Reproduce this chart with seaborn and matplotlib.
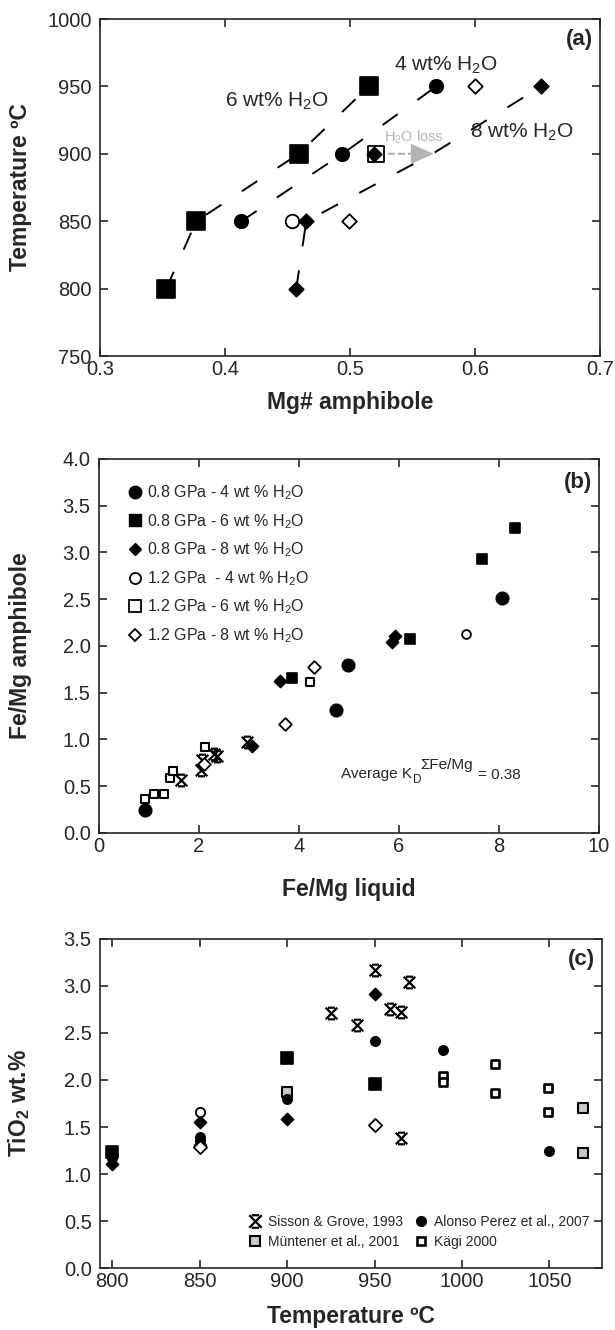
import matplotlib
matplotlib.use('Agg')
import matplotlib.pyplot as plt
from matplotlib.lines import Line2D
from matplotlib.path import Path
from matplotlib.ticker import FormatStrFormatter
import seaborn as sns

# ---- panel (a): Mg# amphibole vs temperature (0.8 / 1.2 GPa runs)
mg_08_6wt = [0.353, 0.377, 0.459, 0.515]
t_08_6wt = [800, 850, 900, 950]
mg_08_4wt = [0.413, 0.494, 0.569]
t_08_4wt = [850, 900, 950]
mg_08_8wt = [0.457, 0.465, 0.519, 0.653]
t_08_8wt = [800, 850, 900, 950]
mg_12_4wt = [0.454]
t_12_4wt = [850]
mg_12_6wt = [0.521]
t_12_6wt = [900]
mg_12_8wt = [0.4995, 0.600]
t_12_8wt = [850, 950]
# 8 wt% trend uses the 900 C run corrected for H2O loss
mg_8wt_trend = [0.457, 0.465, 0.566, 0.653]
t_8wt_trend = [800, 850, 900, 950]
h2o_loss_from = (0.531, 900)
h2o_loss_head = (0.551, 900)
h2o_loss_to = (0.567, 900)

# ---- panel (b): Fe/Mg liquid vs Fe/Mg amphibole
fl_08_4wt = [0.91, 4.73, 4.98, 8.06]
fa_08_4wt = [0.25, 1.32, 1.80, 2.51]
fl_08_6wt = [3.85, 6.22, 7.65, 8.31]
fa_08_6wt = [1.66, 2.08, 2.93, 3.26]
fl_08_8wt = [3.05, 3.61, 5.86, 5.91]
fa_08_8wt = [0.93, 1.63, 2.04, 2.11]
fl_12_4wt = [7.34]
fa_12_4wt = [2.13]
fl_12_6wt = [0.91, 1.09, 1.29, 1.41, 1.47, 2.12, 4.22]
fa_12_6wt = [0.36, 0.42, 0.42, 0.59, 0.66, 0.92, 1.62]
fl_12_8wt = [2.10, 3.71, 4.29]
fa_12_8wt = [0.74, 1.17, 1.77]
fl_sisson = [1.63, 2.03, 2.05, 2.30, 2.36, 2.95]
fa_sisson = [0.57, 0.67, 0.78, 0.85, 0.82, 0.97]
kd_text_pos = (4.84, 0.59)

# ---- panel (c): temperature vs TiO2 in amphibole
tc_sisson = [925, 940, 950, 959, 965, 970, 965]
ti_sisson = [2.71, 2.58, 3.17, 2.75, 2.72, 3.04, 1.38]
tc_circle = [800, 850, 850, 900, 950, 989, 1050]
ti_circle = [1.17, 1.39, 1.35, 1.80, 2.41, 2.32, 1.24]
tc_square = [800, 900, 950]
ti_square = [1.23, 2.23, 1.96]
tc_diamond = [800, 850, 850, 900, 950]
ti_diamond = [1.11, 1.55, 1.31, 1.58, 2.92]
tc_open_circle = [850]
ti_open_circle = [1.66]
tc_open_diamond = [850, 950]
ti_open_diamond = [1.29, 1.52]
tc_muntener = [900, 1069, 1069]
ti_muntener = [1.87, 1.70, 1.22]
tc_kagi = [989, 989, 1019, 1019, 1049, 1049]
ti_kagi = [2.04, 1.98, 2.17, 1.86, 1.92, 1.66]

legend_b = ['0.8 GPa - 4 wt % H$_2$O', '0.8 GPa - 6 wt % H$_2$O',
            '0.8 GPa - 8 wt % H$_2$O', '1.2 GPa  - 4 wt % H$_2$O',
            '1.2 GPa - 6 wt % H$_2$O', '1.2 GPa - 8 wt % H$_2$O']
legend_c = ['Sisson & Grove, 1993', 'Müntener et al., 2001',
            'Alonso Perez et al., 2007', 'Kägi 2000']

sns.set_style('ticks')
plt.rcParams['font.family'] = ['Liberation Sans', 'DejaVu Sans']
plt.rcParams['mathtext.fontset'] = 'custom'
plt.rcParams['mathtext.rm'] = 'Liberation Sans'
plt.rcParams['mathtext.it'] = 'Liberation Sans:italic'
plt.rcParams['mathtext.bf'] = 'Liberation Sans:bold'
plt.rcParams['axes.linewidth'] = 1.2

# X with bars on top and bottom, like the old KaleidaGraph asterisk
star = Path([(-1, -1), (1, 1), (-1, 1), (1, -1), (-0.6, 1), (0.6, 1), (-0.6, -1), (0.6, -1)],
            [Path.MOVETO, Path.LINETO] * 4)


def pts(ax, x, y, marker, s, face, lw=1.2, z=3):
    sns.scatterplot(x=x, y=y, marker=marker, s=s, color=face, edgecolor='black',
                    linewidth=lw, ax=ax, zorder=z, legend=False)


def style_axes(ax, xlabel, ylabel, tag, xlab_y):
    ax.tick_params(direction='in', top=True, right=True, length=6, width=1.2, labelsize=14.5)
    ax.tick_params(axis='x', pad=3)
    ax.tick_params(axis='y', pad=6)
    ax.set_xlabel(xlabel, fontsize=16.5, fontweight='bold')
    ax.set_ylabel(ylabel, fontsize=16.5, fontweight='bold')
    ax.xaxis.set_label_coords(0.5, xlab_y)
    ax.yaxis.set_label_coords(-0.135, 0.5)
    ax.text(0.986, 0.938, tag, transform=ax.transAxes, ha='right', va='center',
            fontsize=16, fontweight='bold')


fig = plt.figure(figsize=(6.15, 13.3), dpi=100)
ax_a = fig.add_axes([0.1626, 0.7323, 0.813, 0.2534])
ax_b = fig.add_axes([0.1610, 0.3737, 0.813, 0.2812])
ax_c = fig.add_axes([0.1626, 0.0466, 0.816, 0.2474])

# ---- (a)
dash = (0, (9.5, 12.5))
ax_a.plot(mg_08_6wt, t_08_6wt, color='black', lw=1.4, ls=dash, zorder=1)
ax_a.plot(mg_08_4wt, t_08_4wt, color='black', lw=1.4, ls=dash, zorder=1)
ax_a.plot(mg_8wt_trend, t_8wt_trend, color='black', lw=1.4, ls=dash, zorder=1)
pts(ax_a, mg_08_6wt, t_08_6wt, 's', 155, 'black')
pts(ax_a, mg_08_4wt, t_08_4wt, 'o', 95, 'black')
pts(ax_a, mg_12_6wt, t_12_6wt, 's', 120, 'white', lw=1.3)
pts(ax_a, mg_08_8wt, t_08_8wt, 'D', 55, 'black', z=4)
pts(ax_a, mg_12_4wt, t_12_4wt, 'o', 95, 'white', lw=1.3)
pts(ax_a, mg_12_8wt, t_12_8wt, 'D', 55, 'white', lw=1.3)
ax_a.annotate('', xy=h2o_loss_head, xytext=h2o_loss_from,
              arrowprops=dict(arrowstyle='-', color='#b4b4b4', lw=1.6, ls=(0, (2.5, 2)),
                              shrinkA=0, shrinkB=0))
ax_a.annotate('', xy=h2o_loss_to, xytext=h2o_loss_head,
              arrowprops=dict(arrowstyle='-|>,head_length=0.9,head_width=0.4',
                              color='#b4b4b4', lw=1.2, mutation_scale=16,
                              shrinkA=0, shrinkB=0))
ax_a.text(0.527, 912, 'H$_2$O loss', color='#b4b4b4', fontsize=10.5, ha='left', va='center')
ax_a.text(0.535, 966, '4 wt% H$_2$O', fontsize=15, ha='left', va='center')
ax_a.text(0.400, 939, '6 wt% H$_2$O', fontsize=15, ha='left', va='center')
ax_a.text(0.596, 916, '8 wt% H$_2$O', fontsize=15, ha='left', va='center')
ax_a.set_xlim(0.3, 0.7)
ax_a.set_ylim(750, 1000)
ax_a.set_xticks([0.3, 0.4, 0.5, 0.6, 0.7])
ax_a.set_yticks([750, 800, 850, 900, 950, 1000])
ax_a.xaxis.set_major_formatter(FormatStrFormatter('%.1f'))
style_axes(ax_a, 'Mg# amphibole', 'Temperature ºC', '(a)', -0.105)

# ---- (b)
pts(ax_b, fl_sisson, fa_sisson, star, 70, 'black', lw=1.6)
pts(ax_b, fl_08_4wt, fa_08_4wt, 'o', 80, 'black')
pts(ax_b, fl_08_6wt, fa_08_6wt, 's', 60, 'black')
pts(ax_b, fl_08_8wt, fa_08_8wt, 'D', 38, 'black')
pts(ax_b, fl_12_4wt, fa_12_4wt, 'o', 40, 'white', lw=1.3)
pts(ax_b, fl_12_6wt, fa_12_6wt, 's', 40, 'white', lw=1.5)
pts(ax_b, fl_12_8wt, fa_12_8wt, 'D', 42, 'white', lw=1.3)
# K_D label built from pieces so the superscript stays near full size
ax_b.annotate('Average K', xy=kd_text_pos, fontsize=11, ha='left', va='baseline')
ax_b.annotate('D', xy=kd_text_pos, xytext=(72, -5), textcoords='offset pixels',
              fontsize=8.5, ha='left', va='baseline')
ax_b.annotate('ΣFe/Mg', xy=kd_text_pos, xytext=(79, 9), textcoords='offset pixels',
              fontsize=11, ha='left', va='baseline')
ax_b.annotate('= 0.38', xy=kd_text_pos, xytext=(137, -1), textcoords='offset pixels',
              fontsize=11, ha='left', va='baseline')
handles_b = [
    Line2D([], [], ls='', marker='o', ms=9, mfc='black', mec='black'),
    Line2D([], [], ls='', marker='s', ms=8.5, mfc='black', mec='black'),
    Line2D([], [], ls='', marker='D', ms=6.5, mfc='black', mec='black'),
    Line2D([], [], ls='', marker='o', ms=8, mfc='white', mec='black', mew=1.3),
    Line2D([], [], ls='', marker='s', ms=8, mfc='white', mec='black', mew=1.3),
    Line2D([], [], ls='', marker='D', ms=6.5, mfc='white', mec='black', mew=1.3),
]
ax_b.legend(handles_b, legend_b, loc='upper left', bbox_to_anchor=(0.055, 0.935),
            frameon=False, fontsize=11.5, handlelength=1.0, handletextpad=0.3,
            labelspacing=0.62, borderaxespad=0, borderpad=0)
ax_b.set_xlim(0, 10)
ax_b.set_ylim(0, 4)
ax_b.set_xticks([0, 2, 4, 6, 8, 10])
ax_b.set_yticks([0, 0.5, 1, 1.5, 2, 2.5, 3, 3.5, 4])
ax_b.yaxis.set_major_formatter(FormatStrFormatter('%.1f'))
style_axes(ax_b, 'Fe/Mg liquid', 'Fe/Mg amphibole', '(b)', -0.12)

# ---- (c)
pts(ax_c, tc_sisson, ti_sisson, star, 70, 'black', lw=1.6)
pts(ax_c, tc_muntener, ti_muntener, 's', 55, '#c8c8c8', lw=1.5)
pts(ax_c, tc_kagi, ti_kagi, 's', 36, 'white', lw=1.9)
pts(ax_c, tc_square, ti_square, 's', 65, 'black')
pts(ax_c, tc_circle, ti_circle, 'o', 45, 'black')
pts(ax_c, tc_diamond, ti_diamond, 'D', 38, 'black')
pts(ax_c, tc_open_circle, ti_open_circle, 'o', 45, 'white', lw=1.3)
pts(ax_c, tc_open_diamond, ti_open_diamond, 'D', 45, 'white', lw=1.3)
handles_c = [
    Line2D([], [], ls='', marker=star, ms=9, mfc='black', mec='black', mew=1.6),
    Line2D([], [], ls='', marker='s', ms=6.5, mfc='#c8c8c8', mec='black', mew=1.5),
    Line2D([], [], ls='', marker='o', ms=7, mfc='black', mec='black'),
    Line2D([], [], ls='', marker='s', ms=6, mfc='white', mec='black', mew=1.9),
]
ax_c.legend(handles_c, legend_c, ncol=2, loc='upper left', bbox_to_anchor=(0.295, 0.162),
            frameon=False, fontsize=10, handlelength=1.0, handletextpad=0.45,
            labelspacing=0.43, columnspacing=0.8, borderaxespad=0, borderpad=0)
ax_c.set_xlim(793, 1080)
ax_c.set_ylim(0, 3.5)
ax_c.set_xticks([800, 850, 900, 950, 1000, 1050])
ax_c.set_yticks([0, 0.5, 1, 1.5, 2, 2.5, 3, 3.5])
ax_c.yaxis.set_major_formatter(FormatStrFormatter('%.1f'))
style_axes(ax_c, 'Temperature ºC', r'TiO$_\mathbf{2}$ wt.%', '(c)', -0.112)

fig.savefig('out.png', dpi=100)
